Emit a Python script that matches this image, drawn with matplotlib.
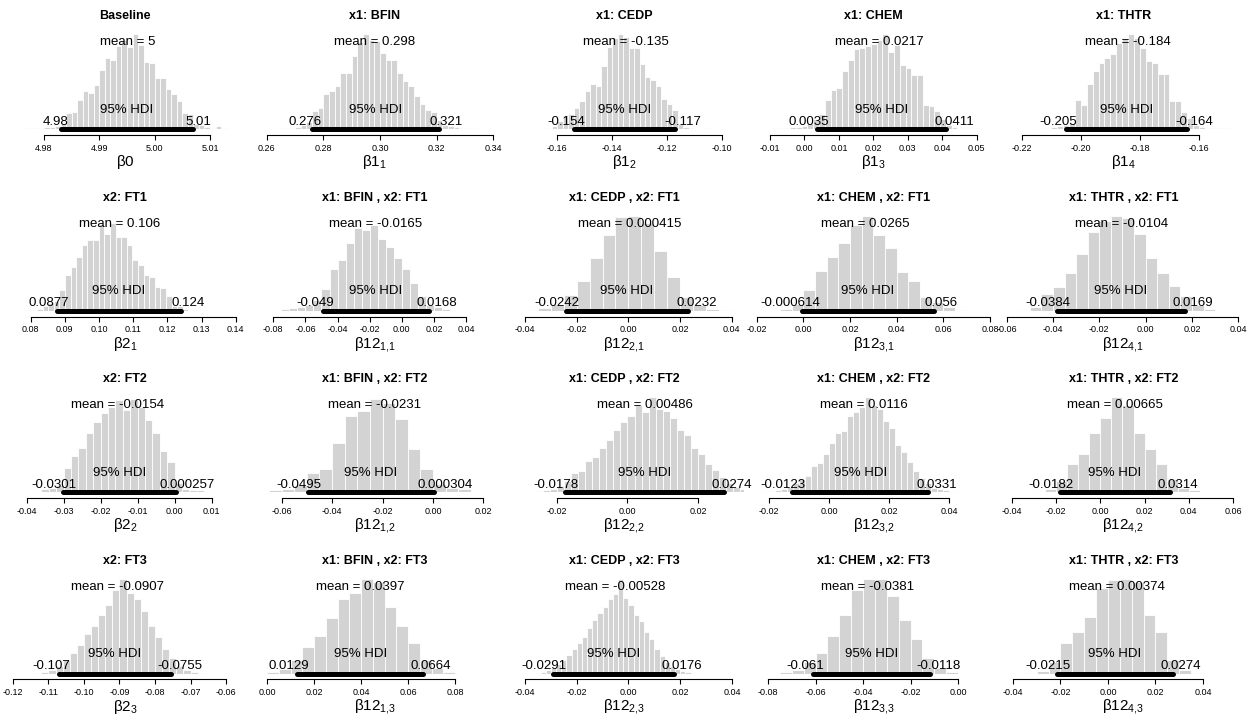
import numpy as np
import matplotlib.pyplot as plt
from matplotlib.transforms import ScaledTranslation

plt.rcParams['font.family'] = ['Liberation Sans', 'DejaVu Sans']
plt.rcParams['mathtext.fontset'] = 'custom'
plt.rcParams['mathtext.rm'] = 'Liberation Sans'
plt.rcParams['mathtext.it'] = 'Liberation Sans:italic'
plt.rcParams['mathtext.bf'] = 'Liberation Sans:bold'

# panel texts
titles = ['Baseline', 'x1: BFIN', 'x1: CEDP', 'x1: CHEM', 'x1: THTR',
          'x2: FT1', 'x1: BFIN , x2: FT1', 'x1: CEDP , x2: FT1', 'x1: CHEM , x2: FT1', 'x1: THTR , x2: FT1',
          'x2: FT2', 'x1: BFIN , x2: FT2', 'x1: CEDP , x2: FT2', 'x1: CHEM , x2: FT2', 'x1: THTR , x2: FT2',
          'x2: FT3', 'x1: BFIN , x2: FT3', 'x1: CEDP , x2: FT3', 'x1: CHEM , x2: FT3', 'x1: THTR , x2: FT3']
xlabels = [r'$\mathregular{β0}$', r'$\mathregular{β1_{1}}$', r'$\mathregular{β1_{2}}$',
           r'$\mathregular{β1_{3}}$', r'$\mathregular{β1_{4}}$',
           r'$\mathregular{β2_{1}}$', r'$\mathregular{β12_{1{,}1}}$', r'$\mathregular{β12_{2{,}1}}$',
           r'$\mathregular{β12_{3{,}1}}$', r'$\mathregular{β12_{4{,}1}}$',
           r'$\mathregular{β2_{2}}$', r'$\mathregular{β12_{1{,}2}}$', r'$\mathregular{β12_{2{,}2}}$',
           r'$\mathregular{β12_{3{,}2}}$', r'$\mathregular{β12_{4{,}2}}$',
           r'$\mathregular{β2_{3}}$', r'$\mathregular{β12_{1{,}3}}$', r'$\mathregular{β12_{2{,}3}}$',
           r'$\mathregular{β12_{3{,}3}}$', r'$\mathregular{β12_{4{,}3}}$']

# posterior summaries
means = [4.9952, 0.298, -0.135, 0.0217, -0.184,
         0.106, -0.0165, 0.000415, 0.0265, -0.0104,
         -0.0154, -0.0231, 0.00486, 0.0116, 0.00665,
         -0.0907, 0.0397, -0.00528, -0.0381, 0.00374]
hdi_lo = [4.9831, 0.276, -0.154, 0.0035, -0.205,
          0.0877, -0.049, -0.0242, -0.000614, -0.0384,
          -0.0301, -0.0495, -0.0178, -0.0123, -0.0182,
          -0.107, 0.0129, -0.0291, -0.061, -0.0215]
hdi_hi = [5.0069, 0.321, -0.117, 0.0411, -0.164,
          0.124, 0.0168, 0.0232, 0.056, 0.0169,
          0.000257, 0.000304, 0.0274, 0.0331, 0.0314,
          -0.0755, 0.0664, 0.0176, -0.0118, 0.0274]

# histogram bins (first edge, width) and relative bar heights
bin_start = [4.977, 0.258, -0.164, -0.00918, -0.216,
             0.07694, -0.075, -0.040, -0.010, -0.055,
             -0.038, -0.065, -0.026, -0.022, -0.030,
             -0.114, 0.000, -0.036, -0.075, -0.035]
bin_width = [0.001, 0.002, 0.002, 0.001675, 0.002,
             0.00164, 0.005, 0.005, 0.005, 0.005,
             0.002, 0.005, 0.002, 0.002, 0.005,
             0.002, 0.005, 0.002, 0.005, 0.005]

h_base = [0.01, 0.01, 0.01, 0.02, 0.02, 0.03, 0.07, 0.17, 0.18, 0.31, 0.40, 0.38, 0.47, 0.62, 0.75,
          0.73, 0.88, 0.94, 0.87, 1.0, 0.89, 0.71, 0.70, 0.54, 0.54, 0.42, 0.37, 0.30, 0.17, 0.16,
          0.06, 0.04, 0.02, 0.01, 0.03, 0.01]
h_bfin = [0.005, 0.005, 0.005, 0.01, 0.01, 0.01, 0.02, 0.04, 0.08, 0.19, 0.22, 0.37, 0.40, 0.46, 0.59,
          0.59, 0.77, 0.92, 1.0, 0.94, 0.93, 0.80, 0.73, 0.73, 0.59, 0.51, 0.46, 0.35, 0.27, 0.20,
          0.18, 0.10, 0.05, 0.035, 0.02, 0.01, 0.01, 0.01]
h_cedp = [0.01, 0.03, 0.09, 0.15, 0.16, 0.22, 0.30, 0.40, 0.48, 0.46, 0.67, 0.87, 0.96, 1.0, 0.97,
          0.86, 0.86, 0.69, 0.55, 0.52, 0.46, 0.32, 0.27, 0.20, 0.06, 0.02, 0.01, 0.005, 0.005, 0.01]
h_chem = [0.01, 0.01, 0.01, 0.02, 0.025, 0.035, 0.065, 0.11, 0.16, 0.31, 0.41, 0.43, 0.61, 0.73, 0.85,
          0.86, 0.88, 0.90, 0.94, 1.0, 0.81, 0.89, 0.68, 0.65, 0.57, 0.57, 0.26, 0.25, 0.19, 0.11,
          0.05, 0.02, 0.015, 0.01, 0.01, 0.01]
h_thtr = [0.005, 0.01, 0.01, 0.02, 0.035, 0.05, 0.07, 0.31, 0.26, 0.48, 0.61, 0.70, 0.75, 0.79, 0.91,
          0.96, 1.0, 0.96, 0.86, 0.72, 0.70, 0.58, 0.58, 0.30, 0.30, 0.18, 0.12, 0.05, 0.025, 0.015,
          0.01, 0.01, 0.01, 0.005]
h_ft1 = [0.01, 0.01, 0.01, 0.02, 0.05, 0.08, 0.10, 0.22, 0.38, 0.46, 0.57, 0.69, 0.74, 0.74, 0.91,
         0.81, 0.92, 0.78, 0.78, 0.69, 0.53, 0.48, 0.38, 0.36, 0.25, 0.24, 0.16, 0.05, 0.05, 0.02,
         0.01, 0.005, 0.005, 0.01]
h_bfin_ft1 = [0.02, 0.03, 0.04, 0.06, 0.11, 0.23, 0.44, 0.53, 0.71, 0.87, 0.85, 0.90, 0.75, 0.67, 0.56,
              0.44, 0.29, 0.16, 0.06, 0.04, 0.02, 0.01]
h_cedp_ft1 = [0.01, 0.03, 0.07, 0.17, 0.31, 0.55, 0.80, 0.99, 1.0, 0.92, 0.63, 0.36, 0.14, 0.06, 0.02, 0.005]
h_chem_ft1 = [0.02, 0.07, 0.22, 0.42, 0.57, 0.71, 0.90, 1.0, 0.80, 0.66, 0.41, 0.31, 0.14, 0.09, 0.04, 0.01]
h_thtr_ft1 = [0.01, 0.04, 0.18, 0.25, 0.40, 0.60, 0.83, 0.94, 1.0, 0.98, 0.81, 0.56, 0.40, 0.26, 0.16,
              0.06, 0.015]
h_ft2 = [0.01, 0.03, 0.05, 0.08, 0.26, 0.38, 0.47, 0.62, 0.74, 0.83, 0.90, 0.97, 0.87, 0.98, 0.90,
         0.76, 0.62, 0.44, 0.32, 0.10, 0.04, 0.025, 0.02, 0.01]
h_bfin_ft2 = [0.02, 0.035, 0.08, 0.20, 0.25, 0.52, 0.80, 0.86, 0.98, 0.94, 0.77, 0.46, 0.25, 0.09, 0.05, 0.03]
h_cedp_ft2 = [0.01, 0.02, 0.04, 0.07, 0.12, 0.20, 0.22, 0.33, 0.37, 0.47, 0.55, 0.66, 0.74, 0.80, 0.92,
              0.85, 1.0, 0.88, 0.86, 0.78, 0.66, 0.60, 0.47, 0.40, 0.30, 0.24, 0.16, 0.10, 0.06, 0.03,
              0.02, 0.01]
h_chem_ft2 = [0.01, 0.01, 0.02, 0.03, 0.06, 0.10, 0.14, 0.17, 0.28, 0.31, 0.40, 0.52, 0.62, 0.65, 0.80,
              0.85, 0.90, 1.0, 0.92, 0.88, 0.75, 0.68, 0.50, 0.42, 0.32, 0.22, 0.15, 0.10, 0.05, 0.03,
              0.02, 0.01]
h_thtr_ft2 = [0.01, 0.04, 0.12, 0.30, 0.40, 0.62, 0.78, 1.0, 0.92, 0.62, 0.46, 0.30, 0.14, 0.05, 0.02]
h_ft3 = [0.01, 0.02, 0.04, 0.08, 0.14, 0.22, 0.30, 0.42, 0.50, 0.62, 0.72, 0.88, 1.0, 0.85, 0.78,
         0.66, 0.50, 0.38, 0.26, 0.16, 0.08, 0.04, 0.02, 0.01]
h_bfin_ft3 = [0.02, 0.05, 0.14, 0.28, 0.40, 0.58, 0.78, 0.85, 1.0, 0.96, 0.70, 0.50, 0.32, 0.14, 0.06, 0.02]
h_cedp_ft3 = [0.01, 0.02, 0.04, 0.06, 0.10, 0.14, 0.20, 0.26, 0.32, 0.38, 0.48, 0.56, 0.64, 0.70, 0.78,
              0.84, 1.0, 0.80, 0.72, 0.62, 0.55, 0.44, 0.36, 0.26, 0.18, 0.12, 0.08, 0.05, 0.03, 0.02,
              0.01]
h_chem_ft3 = [0.02, 0.04, 0.12, 0.22, 0.40, 0.62, 0.88, 1.0, 1.0, 0.82, 0.56, 0.36, 0.16, 0.06, 0.02]
h_thtr_ft3 = [0.01, 0.03, 0.12, 0.32, 0.44, 0.60, 0.90, 0.98, 1.0, 0.96, 0.62, 0.44, 0.14, 0.04, 0.01]

heights = [h_base, h_bfin, h_cedp, h_chem, h_thtr,
           h_ft1, h_bfin_ft1, h_cedp_ft1, h_chem_ft1, h_thtr_ft1,
           h_ft2, h_bfin_ft2, h_cedp_ft2, h_chem_ft2, h_thtr_ft2,
           h_ft3, h_bfin_ft3, h_cedp_ft3, h_chem_ft3, h_thtr_ft3]

# axis ticks per panel
ticks = [[4.98, 4.99, 5.00, 5.01], [0.26, 0.28, 0.30, 0.32, 0.34], [-0.16, -0.14, -0.12, -0.10],
         [-0.01, 0.00, 0.01, 0.02, 0.03, 0.04, 0.05], [-0.22, -0.20, -0.18, -0.16],
         [0.08, 0.09, 0.10, 0.11, 0.12, 0.13, 0.14], [-0.08, -0.06, -0.04, -0.02, 0.00, 0.02, 0.04],
         [-0.04, -0.02, 0.00, 0.02, 0.04], [-0.02, 0.00, 0.02, 0.04, 0.06, 0.08],
         [-0.06, -0.04, -0.02, 0.00, 0.02, 0.04],
         [-0.04, -0.03, -0.02, -0.01, 0.00, 0.01], [-0.06, -0.04, -0.02, 0.00, 0.02],
         [-0.02, 0.00, 0.02], [-0.02, 0.00, 0.02, 0.04], [-0.04, -0.02, 0.00, 0.02, 0.04, 0.06],
         [-0.12, -0.11, -0.10, -0.09, -0.08, -0.07, -0.06], [0.00, 0.02, 0.04, 0.06, 0.08],
         [-0.04, -0.02, 0.00, 0.02, 0.04], [-0.08, -0.06, -0.04, -0.02, 0.00],
         [-0.04, -0.02, 0.00, 0.02, 0.04]]

# x range of each panel (layout)
xlims = [(4.97295, 5.01633), (0.25573, 0.34046), (-0.17938, -0.09179), (-0.0147, 0.05496), (-0.22619, -0.14497),
         (0.07248, 0.14272), (-0.09165, 0.05781), (-0.04805, 0.04484), (-0.02124, 0.08163), (-0.06142, 0.0422),
         (-0.04586, 0.019), (-0.07075, 0.02448), (-0.03498, 0.03311), (-0.02507, 0.05493), (-0.04389, 0.06471),
         (-0.12225, -0.05465), (-0.00528, 0.09685), (-0.04804, 0.04472), (-0.08598, 0.01507), (-0.04404, 0.05701)]

W, H = 1248, 715
fig = plt.figure(figsize=(W / 100, H / 100), dpi=100)
row_base = [129.3, 310.7, 492.3, 673.5]   # pixel y of the histogram baseline
col_w = W / 5
hh = 95.0                                  # pixel height of tallest bar

hdi_texts = []
for i in range(20):
    r, c = divmod(i, 5)
    ax = fig.add_axes([(c * col_w + 5) / W, (H - row_base[r]) / H, 240 / W, hh / H])
    edges = bin_start[i] + bin_width[i] * np.arange(len(heights[i]))
    ax.bar(edges, heights[i], width=bin_width[i], align='edge', color='#d3d3d3',
           edgecolor='white', linewidth=0.6)
    ax.plot([hdi_lo[i], hdi_hi[i]], [0, 0], color='black', lw=3.6,
            solid_capstyle='round', clip_on=False, zorder=3)
    ax.set_xlim(xlims[i])
    ax.set_ylim(0, 1)

    tr = ax.get_xaxis_transform()
    ax.text(means[i], 84 / hh, 'mean = %.3g' % means[i], transform=tr,
            ha='center', va='baseline', fontsize=9.5)
    ax.text((hdi_lo[i] + hdi_hi[i]) / 2, 16.5 / hh, '95% HDI', transform=tr,
            ha='center', va='baseline', fontsize=9.5)
    t1 = ax.text(hdi_lo[i], 4.7 / hh, '%.3g' % hdi_lo[i], transform=tr,
                 ha='center', va='baseline', fontsize=9.5)
    t2 = ax.text(hdi_hi[i], 4.7 / hh, '%.3g' % hdi_hi[i], transform=tr,
                 ha='center', va='baseline', fontsize=9.5)
    hdi_texts += [(t1, -0.2), (t2, 0.2)]

    ax.text(0.5, 113 / hh, titles[i], transform=ax.transAxes, ha='center',
            va='center', fontsize=9, fontweight='bold')
    ax.text(0.5, -37 / hh, xlabels[i], transform=ax.transAxes, ha='center',
            va='baseline', fontsize=11)

    for s in ['top', 'left', 'right']:
        ax.spines[s].set_visible(False)
    ax.spines['bottom'].set_position(('outward', 4.3))
    ax.spines['bottom'].set_bounds(ticks[i][0], ticks[i][-1])
    ax.spines['bottom'].set_linewidth(0.8)
    ax.set_yticks([])
    ax.set_xticks(ticks[i])
    ax.set_xticklabels(['%.2f' % (t + 0.0) for t in ticks[i]])
    ax.tick_params(axis='x', direction='out', length=3.6, width=0.8, labelsize=6.5, pad=2.5)
    ax.patch.set_visible(False)

# R style placement of HDI end labels (70% / 30% of the text on either side)
fig.canvas.draw()
rend = fig.canvas.get_renderer()
for t, frac in hdi_texts:
    w = t.get_window_extent(rend).width
    t.set_transform(t.get_transform() + ScaledTranslation(frac * w / fig.dpi, 0, fig.dpi_scale_trans))

fig.savefig('out.png', dpi=100)
